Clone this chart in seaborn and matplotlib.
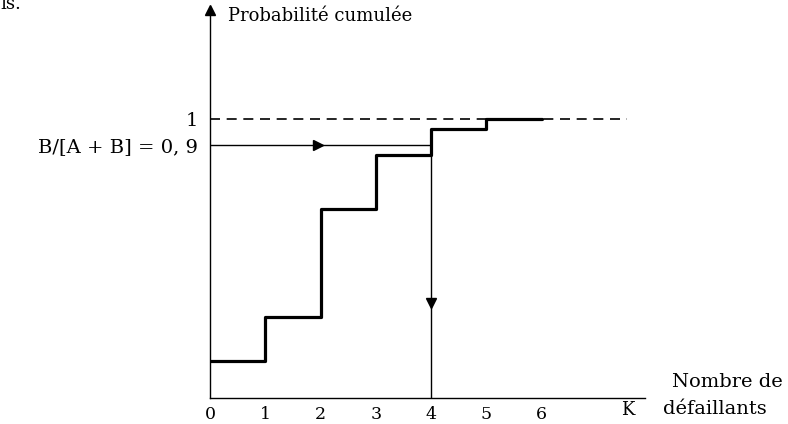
import numpy as np
import matplotlib
matplotlib.use("Agg")
import matplotlib.pyplot as plt
import seaborn as sns

# cumulative probability of the number of failing units K
k_values = [0, 1, 2, 3, 4, 5, 6]
cum_prob = [0.053, 0.225, 0.649, 0.861, 0.963, 1.0, 1.0]

target_ratio = 0.9          # B/[A + B]
k_chosen = 4                # first K with cumulative probability >= 0.9
tick_labels = ["0", "1", "2", "3", "4", "5", "6"]

sns.set_style("white")
plt.rcParams['font.family'] = ['DejaVu Serif']
plt.rcParams['text.color'] = 'black'
plt.rcParams['xtick.color'] = 'black'
plt.rcParams['ytick.color'] = 'black'

fig = plt.figure(figsize=(7.88, 4.24), dpi=100)
W, H = 788, 424
ax = fig.add_axes([210 / W, (H - 398) / H, (645 - 210) / W, (398 - 10) / H])
ax.set_xlim(0, 7.87)
ax.set_ylim(-0.092, 1.429)

# staircase
sns.lineplot(x=k_values, y=cum_prob, drawstyle="steps-post", color="black",
             linewidth=2.3, ax=ax, zorder=3)

# asymptote at 1
ax.plot([0, 7.55], [1.0, 1.0], color="black", linewidth=1.2,
        dashes=(6, 4), zorder=2)

# horizontal line at 0.9 then down to the axis at K = 4
ax.plot([0, k_chosen], [target_ratio, target_ratio], color="black", linewidth=1.0)
ax.plot([k_chosen, k_chosen], [target_ratio, -0.092], color="black", linewidth=1.0)
ax.plot([1.95], [target_ratio], marker=">", color="black", markersize=7)
ax.plot([k_chosen], [0.28], marker="v", color="black", markersize=7)

# axes
for side in ["top", "right"]:
    ax.spines[side].set_visible(False)
for side in ["left", "bottom"]:
    ax.spines[side].set_color("black")
    ax.spines[side].set_linewidth(1.0)
ax.plot([0], [1.429], marker="^", color="black", markersize=7, clip_on=False)

ax.set_xticks(k_values)
ax.set_xticklabels(tick_labels, fontsize=12.5)
ax.set_yticks([target_ratio, 1.0])
ax.set_yticklabels(["B/[A + B] = 0, 9", "1"], fontsize=14)
ax.tick_params(axis="x", length=3, width=0.8, direction="in", pad=6)
ax.tick_params(axis="y", length=0, pad=9)

ax.text(7.55, -0.14, "K", fontsize=13, ha="center", va="center", clip_on=False)
ax.text(0.33, 1.405, "Probabilité cumulée", fontsize=13, ha="left", va="center")
fig.text(672 / W, 1 - 382 / H, "Nombre de", fontsize=14, ha="left", va="center")
fig.text(663 / W, 1 - 409 / H, "défaillants", fontsize=14, ha="left", va="center")
fig.text(0.0, 1 - 9 / H, "is.", fontsize=13, ha="left", va="baseline")

fig.savefig("out.png", dpi=100)
